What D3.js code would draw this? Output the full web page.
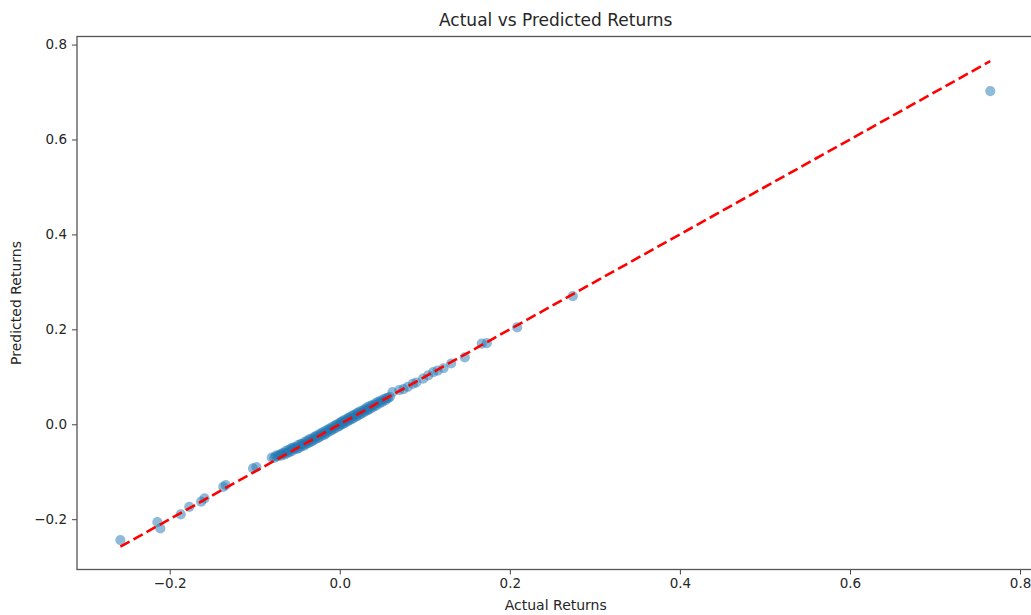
<!DOCTYPE html>
<html>
<head>
<meta charset="utf-8">
<script src="https://cdn.jsdelivr.net/npm/d3@7"></script>
<style>
  body { margin: 0; background: #fff; }
  svg { display: block; font-family: "DejaVu Sans", sans-serif; }
</style>
</head>
<body>
<svg id="chart" width="1031" height="615"></svg>
<script>
  // Actual returns (x) and model predictions (y)
const actual = [
  -0.258, -0.2145, -0.211, -0.187, -0.177, -0.163, -0.159, -0.137, -0.134, -0.102, -0.098,
  -0.080, -0.077, -0.075, -0.073, -0.071, -0.069, -0.068, -0.066, -0.065, -0.063,
  -0.062, -0.060, -0.059, -0.057, -0.056, -0.055, -0.053, -0.052, -0.050, -0.049,
  -0.048, -0.046, -0.045, -0.044, -0.042, -0.041, -0.040, -0.038, -0.037, -0.036,
  -0.034, -0.033, -0.032, -0.030, -0.029, -0.028, -0.026, -0.025, -0.024, -0.022,
  -0.021, -0.020, -0.018, -0.017, -0.016, -0.014, -0.013, -0.012, -0.010, -0.009,
  -0.008, -0.006, -0.005, -0.004, -0.002, -0.001, 0.000, 0.001, 0.002, 0.003,
  0.004, 0.005, 0.006, 0.008, 0.009, 0.010, 0.011, 0.012, 0.014, 0.015,
  0.016, 0.017, 0.019, 0.020, 0.021, 0.022, 0.024, 0.025, 0.026, 0.028,
  0.029, 0.030, 0.032, 0.033, 0.034, 0.036, 0.037, 0.039, 0.040, 0.042,
  0.043, 0.045, 0.047, 0.048, 0.050, 0.052, 0.054, 0.055, 0.057, 0.059,
  0.062, 0.070, 0.075, 0.080, 0.086, 0.090, 0.098, 0.104, 0.110, 0.115,
  0.122, 0.131, 0.147, 0.167, 0.173, 0.2086, 0.274, 0.765
];
const predicted = [
  -0.244, -0.206, -0.2195, -0.190, -0.174, -0.163, -0.156, -0.132, -0.128, -0.093, -0.090,
  -0.070, -0.071, -0.066, -0.067, -0.064, -0.066, -0.062, -0.060, -0.064, -0.056,
  -0.061, -0.054, -0.059, -0.051, -0.056, -0.049, -0.052, -0.048, -0.052, -0.044,
  -0.050, -0.042, -0.046, -0.041, -0.045, -0.037, -0.042, -0.035, -0.040, -0.032,
  -0.037, -0.030, -0.035, -0.027, -0.032, -0.025, -0.029, -0.022, -0.027, -0.019,
  -0.024, -0.017, -0.022, -0.014, -0.019, -0.011, -0.016, -0.009, -0.013, -0.006,
  -0.011, -0.003, -0.008, -0.001, -0.005, 0.002, -0.003, 0.004, 0.000, 0.006,
  0.001, 0.008, 0.003, 0.011, 0.006, 0.013, 0.008, 0.015, 0.011, 0.018,
  0.013, 0.020, 0.016, 0.023, 0.018, 0.025, 0.021, 0.028, 0.023, 0.030,
  0.026, 0.033, 0.029, 0.036, 0.031, 0.039, 0.034, 0.041, 0.037, 0.044,
  0.040, 0.047, 0.044, 0.050, 0.047, 0.053, 0.051, 0.055, 0.055, 0.058,
  0.068, 0.072, 0.074, 0.079, 0.085, 0.088, 0.096, 0.103, 0.110, 0.113,
  0.118, 0.128, 0.141, 0.170, 0.171, 0.204, 0.270, 0.702
];
const xTicks = [-0.2, 0.0, 0.2, 0.4, 0.6, 0.8];
const yTicks = [-0.2, 0.0, 0.2, 0.4, 0.6, 0.8];

const svg = d3.select("#chart");

  // Plot area (matplotlib-like axes box, right edge runs just off the page)
const plotLeft = 77, plotRight = 1034.5, plotTop = 36.5, plotBottom = 569.5;

const x = d3.scaleLinear().domain([-0.309, 0.817]).range([plotLeft, plotRight]);
const y = d3.scaleLinear().domain([-0.306, 0.817]).range([plotBottom, plotTop]);

const points = actual.map((a, i) => ({ a, p: predicted[i] }));

  // Scatter points, semi transparent so the dense part gets darker
svg.append("g")
  .selectAll("circle")
  .data(points)
  .join("circle")
    .attr("cx", d => x(d.a))
    .attr("cy", d => y(d.p))
    .attr("r", 5.1)
    .attr("fill", "#1f77b4")
    .attr("fill-opacity", 0.5);

  // Perfect prediction line from min to max actual value
const lo = d3.min(actual), hi = d3.max(actual);
svg.append("line")
  .attr("x1", x(lo)).attr("y1", y(lo))
  .attr("x2", x(hi)).attr("y2", y(hi))
  .attr("stroke", "#ff0000")
  .attr("stroke-width", 2.6)
  .attr("stroke-dasharray", "10.5,4.5");

  // Axes
const fmt = d3.format(".1f");

const xAxis = svg.append("g")
  .attr("transform", `translate(0,${plotBottom})`)
  .call(d3.axisBottom(x).tickValues(xTicks).tickFormat(fmt).tickSize(5).tickPadding(4));

const yAxis = svg.append("g")
  .attr("transform", `translate(${plotLeft},0)`)
  .call(d3.axisLeft(y).tickValues(yTicks).tickFormat(fmt).tickSize(5).tickPadding(5));

[xAxis, yAxis].forEach(g => {
  g.select(".domain").remove();
  g.selectAll(".tick line").attr("stroke", "#444").attr("stroke-width", 1);
  g.selectAll(".tick text")
    .attr("fill", "#262626")
    .style("font-size", "13.5px")
    .style("font-family", "DejaVu Sans, sans-serif");
});

  // Frame around the plot
svg.append("rect")
  .attr("x", plotLeft).attr("y", plotTop)
  .attr("width", plotRight - plotLeft).attr("height", plotBottom - plotTop)
  .attr("fill", "none")
  .attr("stroke", "#555")
  .attr("stroke-width", 1.3);

  // Title and axis labels
svg.append("text")
  .attr("x", (plotLeft + plotRight) / 2)
  .attr("y", 26)
  .attr("text-anchor", "middle")
  .attr("fill", "#262626")
  .style("font-size", "17px")
  .text("Actual vs Predicted Returns");

svg.append("text")
  .attr("x", (plotLeft + plotRight) / 2)
  .attr("y", 610)
  .attr("text-anchor", "middle")
  .attr("fill", "#262626")
  .style("font-size", "14px")
  .text("Actual Returns");

svg.append("text")
  .attr("transform", `translate(21,${(plotTop + plotBottom) / 2}) rotate(-90)`)
  .attr("text-anchor", "middle")
  .attr("fill", "#262626")
  .style("font-size", "14px")
  .text("Predicted Returns");
</script>
</body>
</html>
